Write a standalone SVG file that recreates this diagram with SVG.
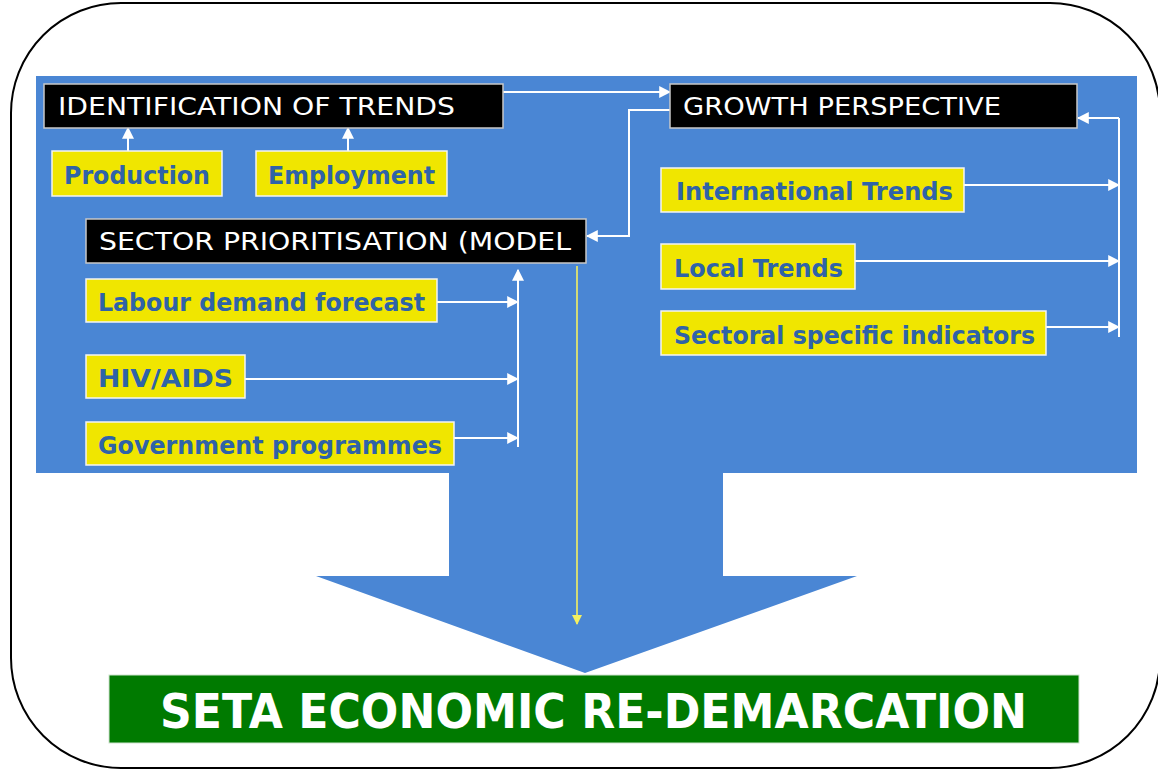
<svg xmlns="http://www.w3.org/2000/svg" width="1158" height="769" viewBox="0 0 1158 769">
<defs>
<style>
.frame{fill:none;stroke:#000;stroke-width:2}
.blk{fill:#000;stroke:#c8c8c8;stroke-width:1.5}
.yel{fill:#F0E600;stroke:#f4f4f4;stroke-width:1.5}
.tw{font-family:"DejaVu Sans",Verdana,sans-serif;font-size:24px;fill:#fff}
.ty{font-family:"DejaVu Sans",Verdana,sans-serif;font-size:25px;font-weight:bold;fill:#2F63A8}
.tg{font-family:"DejaVu Sans",Verdana,sans-serif;font-size:48px;font-weight:bold;fill:#fff}
.ln{fill:none;stroke:#fff;stroke-width:2}
.lny{fill:none;stroke:#F5F060;stroke-width:1.6}
</style>
<marker id="awb" viewBox="0 0 10 10" refX="9" refY="5" markerWidth="12" markerHeight="12" orient="auto" markerUnits="userSpaceOnUse">
<path d="M0,0 L10,5 L0,10 z" fill="#fff"/>
</marker>
<marker id="ay" viewBox="0 0 10 10" refX="9" refY="5" markerWidth="10" markerHeight="10" orient="auto" markerUnits="userSpaceOnUse">
<path d="M0,0 L10,5 L0,10 z" fill="#F5F060"/>
</marker>
</defs>
<rect width="1158" height="769" fill="#fff"/>
<rect class="frame" x="11" y="3" width="1149" height="765" rx="110" ry="110"/>
<polygon id="bigarrow" fill="#4A86D4" points="36,76 1137,76 1137,473 723,473 723,576 857,576 585,673 316,576 449,576 449,473 36,473"/>

<g id="connectors">
<path class="ln" marker-end="url(#awb)" d="M503,92 L670,92"/>
<path class="ln" stroke-width="1.5" marker-end="url(#awb)" d="M670,110 L629,110 L629,236 L587,236"/>
<path class="ln" marker-end="url(#awb)" d="M128,151 L128,128"/>
<path class="ln" marker-end="url(#awb)" d="M348,151 L348,128"/>
<path class="ln" stroke-width="1.5" d="M1119,337 L1119,118"/>
<path class="ln" marker-end="url(#awb)" d="M1119,118 L1078,118"/>
<path class="ln" marker-end="url(#awb)" d="M964,185 L1119,185"/>
<path class="ln" marker-end="url(#awb)" d="M855,261 L1119,261"/>
<path class="ln" marker-end="url(#awb)" d="M1046,327 L1119,327"/>
<path class="ln" marker-end="url(#awb)" d="M518,447 L518,270"/>
<path class="ln" marker-end="url(#awb)" d="M437,302 L518,302"/>
<path class="ln" marker-end="url(#awb)" d="M245,379 L518,379"/>
<path class="ln" marker-end="url(#awb)" d="M454,438 L518,438"/>
<path class="lny" marker-end="url(#ay)" d="M577,266 L577,624"/>
</g>

<g id="ident"><rect class="blk" x="44" y="84" width="459" height="44"/><text class="tw" x="58" y="115" textLength="397" lengthAdjust="spacingAndGlyphs">IDENTIFICATION OF TRENDS</text></g>
<g id="growth"><rect class="blk" x="670" y="84" width="407" height="44"/><text class="tw" x="683" y="115" textLength="318" lengthAdjust="spacingAndGlyphs">GROWTH PERSPECTIVE</text></g>
<g id="sector"><rect class="blk" x="86" y="219" width="500" height="44"/><text class="tw" x="99" y="250" textLength="472" lengthAdjust="spacingAndGlyphs">SECTOR PRIORITISATION (MODEL</text></g>

<g id="production"><rect class="yel" x="52" y="151" width="170" height="45"/><text class="ty" x="64" y="184" textLength="146" lengthAdjust="spacingAndGlyphs">Production</text></g>
<g id="employment"><rect class="yel" x="256" y="151" width="191" height="45"/><text class="ty" x="268" y="184" textLength="167" lengthAdjust="spacingAndGlyphs">Employment</text></g>
<g id="international"><rect class="yel" x="661" y="168" width="303" height="44"/><text class="ty" x="676" y="200" textLength="277" lengthAdjust="spacingAndGlyphs">International Trends</text></g>
<g id="local"><rect class="yel" x="661" y="244" width="194" height="45"/><text class="ty" x="674" y="277" textLength="169" lengthAdjust="spacingAndGlyphs">Local Trends</text></g>
<g id="sectoral"><rect class="yel" x="661" y="311" width="385" height="44"/><text class="ty" x="674" y="344" textLength="361" lengthAdjust="spacingAndGlyphs">Sectoral specific indicators</text></g>
<g id="labour"><rect class="yel" x="86" y="279" width="351" height="43"/><text class="ty" x="98" y="311" textLength="327" lengthAdjust="spacingAndGlyphs">Labour demand forecast</text></g>
<g id="hiv"><rect class="yel" x="86" y="355" width="159" height="43"/><text class="ty" x="98" y="387" textLength="135" lengthAdjust="spacingAndGlyphs">HIV/AIDS</text></g>
<g id="government"><rect class="yel" x="86" y="422" width="368" height="43"/><text class="ty" x="98" y="454" textLength="344" lengthAdjust="spacingAndGlyphs">Government programmes</text></g>

<g id="seta"><rect x="109" y="675" width="970" height="68" fill="#007A00" stroke="#cfe3cf" stroke-width="1"/><text class="tg" x="160" y="728" textLength="867" lengthAdjust="spacingAndGlyphs">SETA ECONOMIC RE-DEMARCATION</text></g>
</svg>
